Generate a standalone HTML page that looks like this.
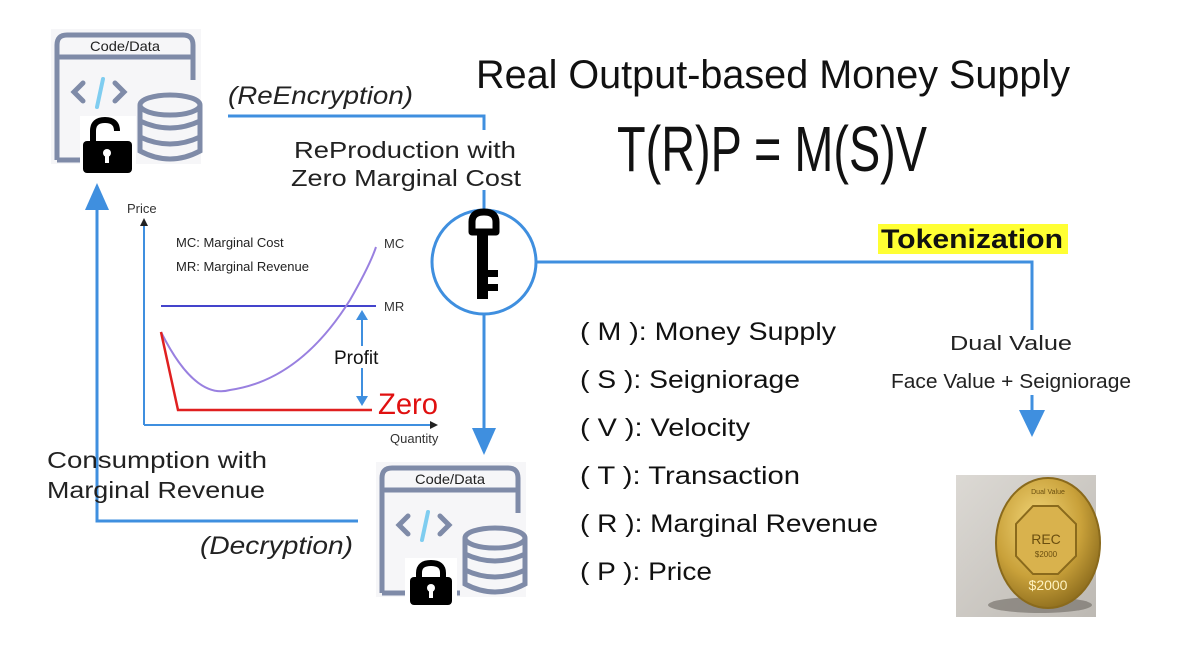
<!DOCTYPE html>
<html><head><meta charset="utf-8"><style>
html,body{margin:0;padding:0;background:#fff;}
svg{display:block;font-family:"Liberation Sans",sans-serif;}
</style></head><body>
<svg width="1200" height="649" viewBox="0 0 1200 649" xmlns="http://www.w3.org/2000/svg">
<defs>
<linearGradient id="bg" x1="0" y1="0" x2="1" y2="1"><stop offset="0" stop-color="#dcd9d4"/><stop offset="1" stop-color="#bdb9b3"/></linearGradient>
<radialGradient id="gold" cx="0.4" cy="0.35" r="0.7"><stop offset="0" stop-color="#f3d77a"/><stop offset="0.6" stop-color="#c9a13a"/><stop offset="1" stop-color="#8a6a1c"/></radialGradient>
<g id="icon">
<rect x="-4" y="-4" width="150" height="135" fill="#f6f6f8"/>
<path d="M2,127 L2,12 Q2,2 12,2 L128,2 Q138,2 138,12 L138,47" fill="none" stroke="#7f8ba8" stroke-width="5"/>
<line x1="2" y1="24" x2="138" y2="24" stroke="#7f8ba8" stroke-width="5"/>
<line x1="2" y1="127" x2="80" y2="127" stroke="#7f8ba8" stroke-width="5"/>
<text x="70" y="18" font-size="14" text-anchor="middle" fill="#222" textLength="70" lengthAdjust="spacingAndGlyphs">Code/Data</text>
<path d="M28,50 L19,59 L28,68 M60,50 L69,59 L60,68" fill="none" stroke="#7f8ba8" stroke-width="5" stroke-linecap="round"/>
<line x1="48" y1="46" x2="42" y2="74" stroke="#7fcdf0" stroke-width="4" stroke-linecap="round"/>
<g fill="none" stroke="#7f8ba8" stroke-width="5">
<ellipse cx="115" cy="72" rx="30" ry="10"/>
<path d="M85,72 L85,118 Q115,134 145,118 L145,72"/>
<path d="M85,88 Q115,102 145,88 M85,104 Q115,118 145,104"/>
</g>
</g>
</defs>

<use href="#icon" x="55" y="33"/>
<use href="#icon" x="380" y="466"/>
<!-- open lock top -->
<rect x="80" y="116" width="56" height="60" fill="#fff"/>
<path d="M93,143 L93,131 Q93,120 105,120 Q117,120 117,131" fill="none" stroke="#000" stroke-width="6"/>
<rect x="83" y="141" width="49" height="32" rx="4" fill="#000"/>
<circle cx="107" cy="153" r="4" fill="#fff"/><rect x="105" y="153" width="4" height="10" fill="#fff"/>
<!-- closed lock bottom -->
<rect x="405" y="558" width="52" height="50" fill="#fff"/>
<path d="M419,580 L419,573 Q419,563 431,563 Q443,563 443,573 L443,580" fill="none" stroke="#000" stroke-width="6"/>
<rect x="410" y="577" width="42" height="28" rx="4" fill="#000"/>
<circle cx="431" cy="588" r="4" fill="#fff"/><rect x="429" y="588" width="4" height="10" fill="#fff"/>

<!-- connectors -->
<g stroke="#3f8fdf" stroke-width="3" fill="none">
<polyline points="228,116 484,116 484,130"/>
<line x1="484" y1="190" x2="484" y2="210"/>
<line x1="484" y1="314" x2="484" y2="428"/>
<polyline points="536,262 1032,262 1032,330"/>
<line x1="1032" y1="395" x2="1032" y2="412"/>
<polyline points="358,521 97,521 97,210"/>
</g>
<polygon points="472,428 496,428 484,455" fill="#3f8fdf"/>
<polygon points="1019,410 1045,410 1032,437" fill="#3f8fdf"/>
<polygon points="85,210 109,210 97,183" fill="#3f8fdf"/>

<!-- key circle -->
<circle cx="484" cy="262" r="52" fill="#fff" stroke="#3f8fdf" stroke-width="3"/>
<path d="M472,232 L472,222 Q472,212 484,212 Q496,212 496,222 L496,232 Z" fill="none" stroke="#000" stroke-width="7" stroke-linejoin="round"/>
<rect x="477" y="234" width="11" height="65" fill="#000"/>
<rect x="488" y="270" width="10" height="7" fill="#000"/>
<rect x="488" y="284" width="10" height="7" fill="#000"/>

<!-- labels -->
<text x="228" y="104" font-size="25" font-style="italic" fill="#222" textLength="185" lengthAdjust="spacingAndGlyphs">(ReEncryption)</text>
<text x="200" y="554" font-size="25" font-style="italic" fill="#222" textLength="153" lengthAdjust="spacingAndGlyphs">(Decryption)</text>
<text x="405" y="158" font-size="23" text-anchor="middle" fill="#222" textLength="222" lengthAdjust="spacingAndGlyphs">ReProduction with</text>
<text x="406" y="186" font-size="23" text-anchor="middle" fill="#222" textLength="230" lengthAdjust="spacingAndGlyphs">Zero Marginal Cost</text>
<text x="47" y="468" font-size="23" fill="#222" textLength="220" lengthAdjust="spacingAndGlyphs">Consumption with</text>
<text x="47" y="498" font-size="23" fill="#222" textLength="218" lengthAdjust="spacingAndGlyphs">Marginal Revenue</text>

<text x="476" y="88" font-size="40" fill="#111" textLength="594" lengthAdjust="spacingAndGlyphs">Real Output-based Money Supply</text>
<text x="617" y="171" font-size="64" fill="#111" textLength="310" lengthAdjust="spacingAndGlyphs">T(R)P = M(S)V</text>

<rect x="878" y="224" width="190" height="30" fill="#ffff33"/>
<text x="881" y="248" font-size="27" font-weight="bold" fill="#111" textLength="182" lengthAdjust="spacingAndGlyphs">Tokenization</text>
<text x="1011" y="350" font-size="20" text-anchor="middle" fill="#222" textLength="122" lengthAdjust="spacingAndGlyphs">Dual Value</text>
<text x="1011" y="388" font-size="20" text-anchor="middle" fill="#222" textLength="240" lengthAdjust="spacingAndGlyphs">Face Value + Seigniorage</text>

<g font-size="25" fill="#111">
<text x="580" y="340" textLength="256" lengthAdjust="spacingAndGlyphs">( M ): Money Supply</text>
<text x="580" y="388" textLength="220" lengthAdjust="spacingAndGlyphs">( S ): Seigniorage</text>
<text x="580" y="436" textLength="170" lengthAdjust="spacingAndGlyphs">( V ): Velocity</text>
<text x="580" y="484" textLength="220" lengthAdjust="spacingAndGlyphs">( T ): Transaction</text>
<text x="580" y="532" textLength="298" lengthAdjust="spacingAndGlyphs">( R ): Marginal Revenue</text>
<text x="580" y="580" textLength="132" lengthAdjust="spacingAndGlyphs">( P ): Price</text>
</g>

<!-- chart -->
<text x="127" y="213" font-size="13" fill="#333">Price</text>
<line x1="144" y1="226" x2="144" y2="425" stroke="#3f8fdf" stroke-width="2"/>
<polygon points="140,226 148,226 144,218" fill="#222"/>
<line x1="144" y1="425" x2="430" y2="425" stroke="#3f8fdf" stroke-width="2"/>
<polygon points="430,421 430,429 438,425" fill="#222"/>
<text x="390" y="443" font-size="13" fill="#333">Quantity</text>
<text x="176" y="247" font-size="13" fill="#222">MC: Marginal Cost</text>
<text x="176" y="271" font-size="13" fill="#222">MR: Marginal Revenue</text>
<text x="384" y="248" font-size="13" fill="#333">MC</text>
<text x="384" y="311" font-size="13" fill="#333">MR</text>
<line x1="161" y1="306" x2="376" y2="306" stroke="#4444cc" stroke-width="2"/>
<path d="M161,332 Q195,400 230,390 Q300,380 350,300 Q370,265 376,247" fill="none" stroke="#9980e0" stroke-width="2"/>
<polyline points="161,332 178,410 372,410" fill="none" stroke="#e02020" stroke-width="2.5"/>
<line x1="362" y1="318" x2="362" y2="398" stroke="#3f8fdf" stroke-width="2"/>
<polygon points="356,320 368,320 362,310" fill="#3f8fdf"/>
<polygon points="356,396 368,396 362,406" fill="#3f8fdf"/>
<rect x="332" y="346" width="62" height="22" fill="#fff"/>
<text x="334" y="364" font-size="19" fill="#111">Profit</text>
<text x="378" y="414" font-size="30" fill="#e01010" textLength="60" lengthAdjust="spacingAndGlyphs">Zero</text>

<!-- coin -->
<rect x="956" y="475" width="140" height="142" fill="url(#bg)"/>
<ellipse cx="1040" cy="605" rx="52" ry="8" fill="#6d6860" opacity="0.6"/>
<ellipse cx="1048" cy="543" rx="52" ry="65" fill="url(#gold)" stroke="#8a6a1c" stroke-width="2"/>
<polygon points="1033,506 1058,506 1076,524 1076,556 1058,574 1033,574 1016,556 1016,524" fill="#d9b24d" stroke="#8a6a1c" stroke-width="2"/>
<text x="1046" y="544" font-size="14" text-anchor="middle" fill="#6b4f10">REC</text>
<text x="1046" y="557" font-size="8" text-anchor="middle" fill="#6b4f10">$2000</text>
<text x="1048" y="590" font-size="14" text-anchor="middle" fill="#fff3c0">$2000</text>
<text x="1048" y="494" font-size="7" text-anchor="middle" fill="#6b4f10">Dual Value</text>
</svg>
</body></html>
